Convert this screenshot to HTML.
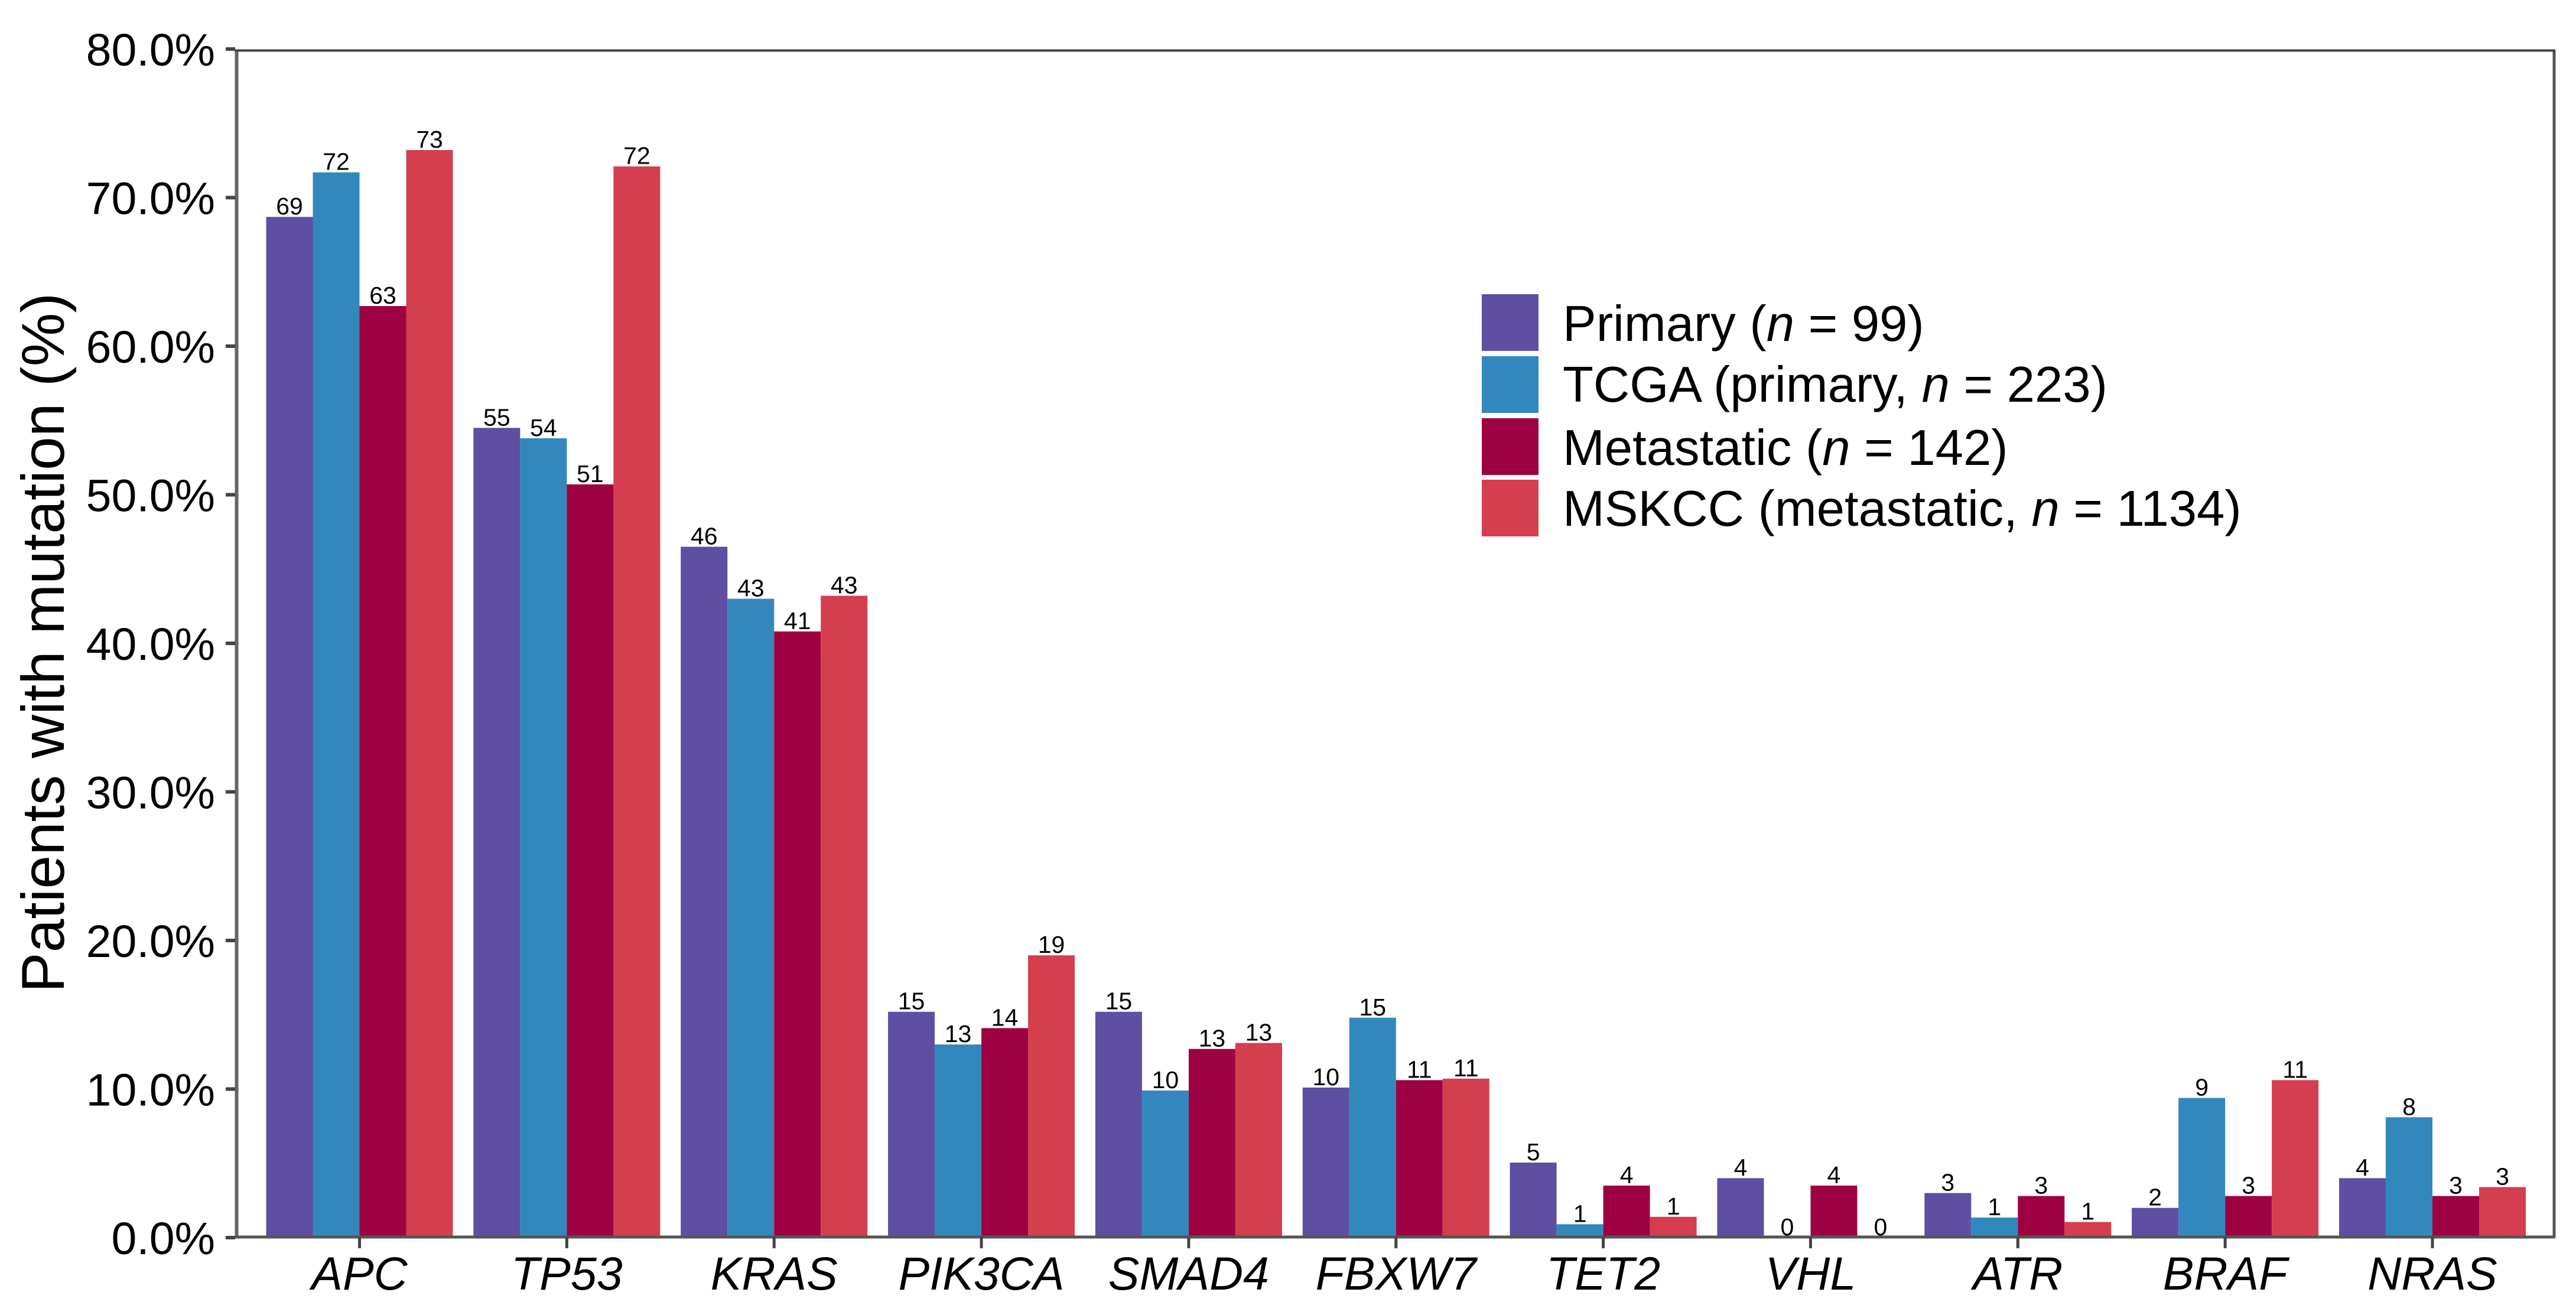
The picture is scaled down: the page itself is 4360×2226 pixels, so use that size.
<!DOCTYPE html>
<html lang="en">
<head>
<meta charset="utf-8">
<title>Patients with mutation by gene</title>
<style>
html,body{margin:0;padding:0;background:#fff;width:4360px;height:2226px;overflow:hidden}
svg{display:block}
text{font-family:"Liberation Sans",Arial,sans-serif;fill:#000}
</style>
</head>
<body>
<svg id="chart" xmlns="http://www.w3.org/2000/svg" width="4360" height="2226" viewBox="0 0 4360 2226">
  <rect x="0" y="0" width="4360" height="2226" fill="#ffffff"/>
  <g id="bars"></g>
  <g id="labels"></g>
  <g id="axes"></g>
  <text transform="translate(108,1088) rotate(-90)" text-anchor="middle" font-size="102">Patients with mutation (%)</text>
  <g>
    <g>
      <rect x="2508" y="498" width="96" height="96" fill="#5e4fa2"/>
      <text x="2645" y="577" font-size="85" xml:space="preserve">Primary (<tspan font-style="italic">n</tspan> = 99)</text>
    </g>
    <g>
      <rect x="2508" y="603" width="96" height="96" fill="#3288bd"/>
      <text x="2645" y="680" font-size="85" xml:space="preserve">TCGA (primary, <tspan font-style="italic">n</tspan> = 223)</text>
    </g>
    <g>
      <rect x="2508" y="708" width="96" height="96" fill="#9e0142"/>
      <text x="2645" y="787" font-size="85" xml:space="preserve">Metastatic (<tspan font-style="italic">n</tspan> = 142)</text>
    </g>
    <g>
      <rect x="2508" y="812" width="96" height="96" fill="#d53e4f"/>
      <text x="2645" y="890" font-size="85" xml:space="preserve">MSKCC (metastatic, <tspan font-style="italic">n</tspan> = 1134)</text>
    </g>
  </g>
</svg>
<script>
const genes = ["APC","TP53","KRAS","PIK3CA","SMAD4","FBXW7","TET2","VHL","ATR","BRAF","NRAS"];
const seriesNames = ["primary","tcga","metastatic","mskcc"];
const seriesColors = ["#5e4fa2","#3288bd","#9e0142","#d53e4f"];

const primaryValues    = [68.7,54.5,46.5,15.2,15.2,10.1,5.05,4.0,3.0,2.0,4.0];
const tcgaValues       = [71.7,53.8,43.0,13.0,9.9,14.8,0.9,0,1.35,9.4,8.1];
const metastaticValues = [62.7,50.7,40.8,14.1,12.7,10.6,3.5,3.5,2.8,2.8,2.8];
const mskccValues      = [73.2,72.1,43.2,19.0,13.1,10.7,1.4,0,1.05,10.6,3.4];

const primaryLabels    = ["69","55","46","15","15","10","5","4","3","2","4"];
const tcgaLabels       = ["72","54","43","13","10","15","1","0","1","9","8"];
const metastaticLabels = ["63","51","41","14","13","11","4","4","3","3","3"];
const mskccLabels      = ["73","72","43","19","13","11","1","0","1","11","3"];

const yTicks = [0,10,20,30,40,50,60,70,80];
const yTickLabels = ["0.0%","10.0%","20.0%","30.0%","40.0%","50.0%","60.0%","70.0%","80.0%"];

const allValues = [primaryValues,tcgaValues,metastaticValues,mskccValues];
const allLabels = [primaryLabels,tcgaLabels,metastaticLabels,mskccLabels];

const NS = "http://www.w3.org/2000/svg";
const barWidth = 79;
function xCenter(i){ return 608.5 + 350.85 * i; }
function barLeft(i,s){ return xCenter(i) + (s - 2) * barWidth; }
function yScale(v){ return 2095 - 25.15 * v; }

function make(tag, attrs, parent){
  const el = document.createElementNS(NS, tag);
  for (const k in attrs) el.setAttribute(k, attrs[k]);
  parent.appendChild(el);
  return el;
}

const barsG = document.getElementById("bars");
const labelsG = document.getElementById("labels");
const axesG = document.getElementById("axes");

genes.forEach(function(gene,i){
  seriesNames.forEach(function(name,s){
    const v = allValues[s][i];
    const rect = make("rect",{x:barLeft(i,s),y:yScale(v),width:barWidth,height:Math.max(0,yScale(0)-yScale(v)),fill:seriesColors[s]},barsG);
    
    
    const label = make("text",{x:barLeft(i,s)+barWidth/2,y:yScale(v)-4,"text-anchor":"middle","font-size":41},labelsG);
    label.textContent = allLabels[s][i];
    
    
  });
});

const frame = [
  ["panel-border-left",400.5,85.5,400.5,2094,"#666666",6],
  ["panel-border-right",4323,85.5,4323,2094,"#555555",5],
  ["panel-border-top",397,85.5,4325,85.5,"#444444",4],
  ["panel-border-bottom",397,2094,4325,2094,"#555555",5]
];
frame.forEach(function(f){
  const line = make("line",{x1:f[1],y1:f[2],x2:f[3],y2:f[4],stroke:f[5],"stroke-width":f[6]},axesG);
  
  
});

yTicks.forEach(function(t,i){
  const tick = make("line",{x1:382,y1:yScale(t),x2:398,y2:yScale(t),stroke:"#444444","stroke-width":6},axesG);
  
  
  const lab = make("text",{x:364,y:yScale(t)+28,"text-anchor":"end","font-size":77},axesG);
  lab.textContent = yTickLabels[i];
  
  
});

genes.forEach(function(gene,i){
  const tick = make("line",{x1:xCenter(i),y1:2094,x2:xCenter(i),y2:2113,stroke:"#444444","stroke-width":5},axesG);
  
  
  const lab = make("text",{x:xCenter(i),y:2183,"text-anchor":"middle","font-size":79,"font-style":"italic"},axesG);
  lab.textContent = gene;
  
  
});
</script>
</body>
</html>
